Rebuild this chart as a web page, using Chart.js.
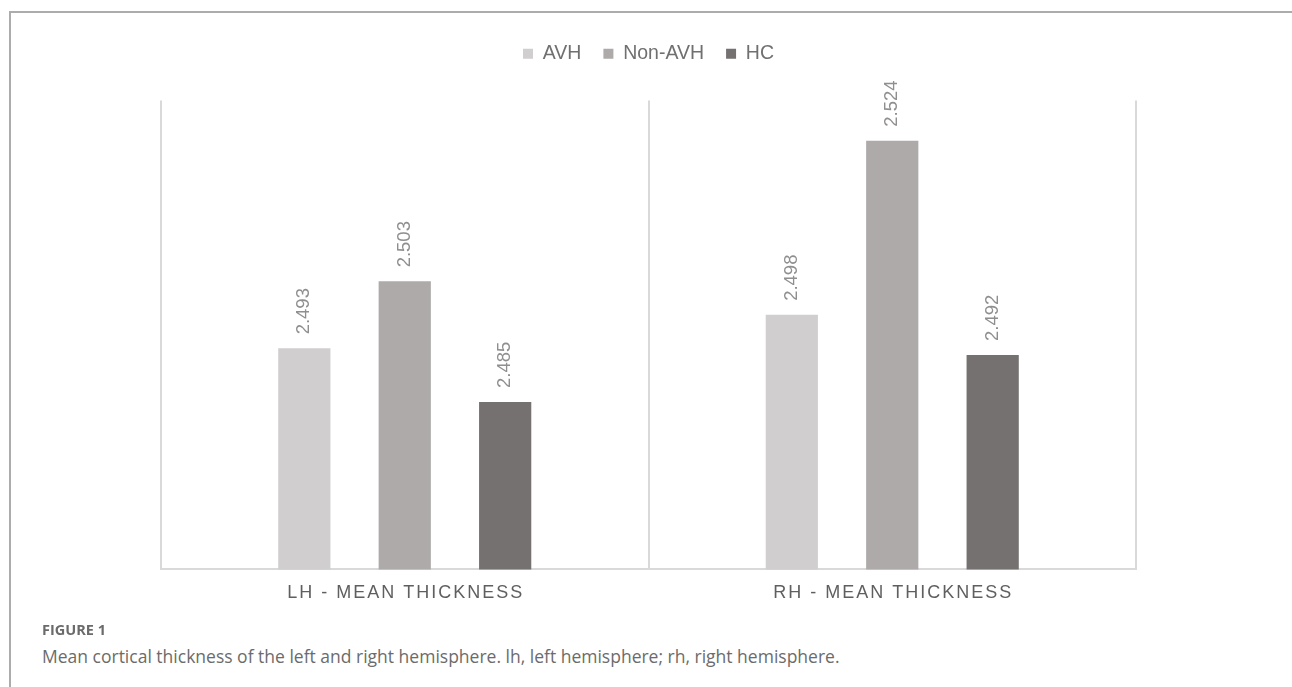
<!DOCTYPE html>
<html lang="en">
<head>
    <meta charset="UTF-8">
    <title>Mean cortical thickness</title>
    <script src="https://cdn.jsdelivr.net/npm/chart.js"></script>
    <style>
        body {
            margin: 0;
            background: #fff;
            width: 1292px;
            height: 687px;
            overflow: hidden;
            position: relative;
            font-family: "Open Sans", Lato, sans-serif;
        }
        .frame {
            position: absolute;
            left: 9px;
            top: 11px;
            right: 0;
            bottom: 0;
            border-top: 2px solid #acacac;
            border-left: 2px solid #acacac;
        }
        .chart-box {
            position: absolute;
            left: 10px;
            top: 12px;
            width: 1282px;
            height: 619px;
        }
        .fig-label {
            position: absolute;
            left: 42px;
            top: 620px;
            font-size: 14.5px;
            font-weight: bold;
            color: #6b6b6b;
        }
        .caption {
            position: absolute;
            left: 42px;
            top: 644px;
            font-size: 17.5px;
            color: #6b6b6b;
        }
    </style>
</head>
<body>
    <div class="frame"></div>
    <div class="chart-box">
        <canvas id="myChart"></canvas>
    </div>
    <div class="fig-label">FIGURE 1</div>
    <div class="caption">Mean cortical thickness of the left and right hemisphere. lh, left hemisphere; rh, right hemisphere.</div>

    <script>
        // данные с картинки
        const categories = ['LH - MEAN THICKNESS', 'RH - MEAN THICKNESS'];
        const avhValues = [2.493, 2.498];
        const nonAvhValues = [2.503, 2.524];
        const hcValues = [2.485, 2.492];

        // подписи значений над столбцами, повернутые вертикально
        const valueLabels = {
            id: 'valueLabels',
            afterDatasetsDraw(chart) {
                const ctx = chart.ctx;
                ctx.save();
                ctx.font = '18.5px "Liberation Sans", Arial, sans-serif';
                ctx.fillStyle = '#8f8f8f';
                ctx.textAlign = 'left';
                ctx.textBaseline = 'middle';
                chart.data.datasets.forEach((ds, i) => {
                    chart.getDatasetMeta(i).data.forEach((bar, j) => {
                        ctx.save();
                        ctx.translate(bar.x, bar.y - 14);
                        ctx.rotate(-Math.PI / 2);
                        ctx.fillText(ds.data[j].toFixed(3), 0, 0);
                        ctx.restore();
                    });
                });
                ctx.restore();
            }
        };

        // подписи категорий с разрядкой букв
        const spacedTicks = {
            id: 'spacedTicks',
            afterDraw(chart) {
                const ctx = chart.ctx;
                const x = chart.scales.x;
                ctx.save();
                ctx.font = '18px "Liberation Sans", Arial, sans-serif';
                ctx.letterSpacing = '2px';
                ctx.fillStyle = '#5f5f5f';
                ctx.textAlign = 'center';
                ctx.textBaseline = 'middle';
                categories.forEach((c, i) => {
                    ctx.fillText(c, x.getPixelForTick(i) + 1, chart.chartArea.bottom + 24);
                });
                ctx.restore();
            }
        };

        new Chart(document.getElementById('myChart'), {
            type: 'bar',
            data: {
                labels: categories,
                datasets: [
                    { label: 'AVH', data: avhValues, backgroundColor: '#d0cece' },
                    { label: 'Non-AVH', data: nonAvhValues, backgroundColor: '#aeaaaa' },
                    { label: 'HC', data: hcValues, backgroundColor: '#767171' }
                ]
            },
            options: {
                responsive: true,
                maintainAspectRatio: false,
                animation: false,
                categoryPercentage: 0.618,
                barPercentage: 0.52,
                layout: {
                    padding: { left: 151, right: 156, top: 10, bottom: 0 }
                },
                plugins: {
                    legend: {
                        position: 'top',
                        labels: {
                            boxWidth: 10,
                            boxHeight: 10,
                            padding: 22,
                            color: '#707070',
                            font: { family: '"Liberation Sans", Arial, sans-serif', size: 19.5 }
                        }
                    },
                    // пустой заголовок как отступ между легендой и графиком
                    title: {
                        display: true,
                        text: '',
                        weight: 500,
                        font: { size: 10 },
                        padding: { top: 0, bottom: 15 }
                    },
                    tooltip: { enabled: false }
                },
                scales: {
                    x: {
                        grid: {
                            offset: true,
                            color: '#d9d9d9',
                            lineWidth: 2,
                            drawTicks: false
                        },
                        border: { color: '#d9d9d9', width: 2 },
                        ticks: {
                            color: 'rgba(0,0,0,0)',
                            padding: 20,
                            font: { size: 18 }
                        }
                    },
                    y: {
                        display: false,
                        min: 2.46,
                        max: 2.53
                    }
                }
            },
            plugins: [valueLabels, spacedTicks]
        });
    </script>
</body>
</html>
